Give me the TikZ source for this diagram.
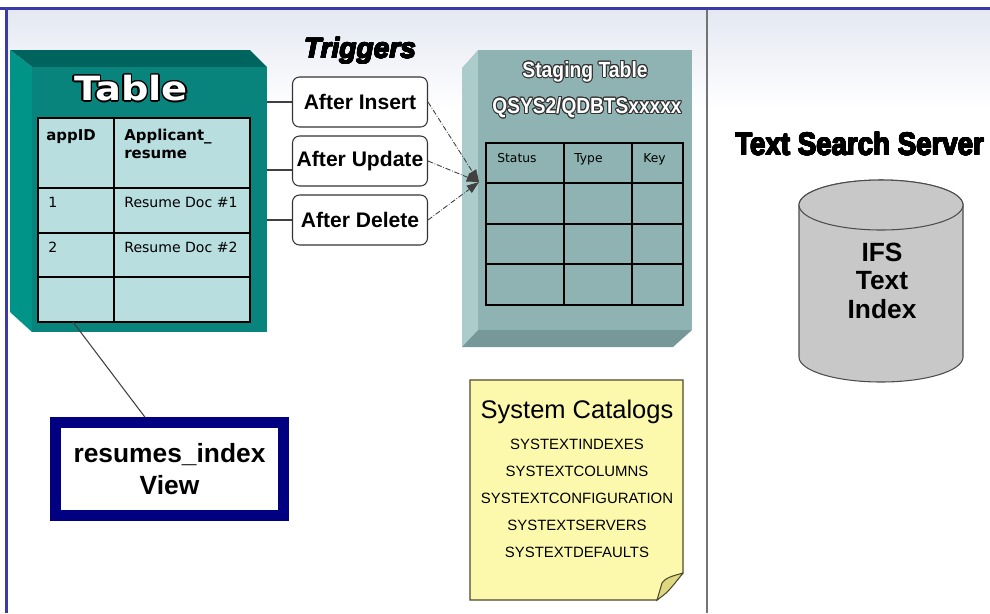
\documentclass[tikz,border=0pt]{standalone}
\usepackage{fontspec}
\setmainfont{Liberation Sans}
\newfontfamily\verdana{DejaVu Sans}
\usepackage{graphicx}
\usepackage{contour}
\usetikzlibrary{arrows.meta}

\definecolor{frameblue}{RGB}{58,58,168}
\definecolor{bgtop}{RGB}{228,232,242}
\definecolor{tealfront}{RGB}{8,132,124}
\definecolor{tealtop}{RGB}{0,100,94}
\definecolor{tealleft}{RGB}{0,148,136}
\definecolor{cellfill}{RGB}{184,222,224}
\definecolor{stagefront}{RGB}{143,178,178}
\definecolor{stageleft}{RGB}{172,204,204}
\definecolor{stagebottom}{RGB}{118,152,152}
\definecolor{notefill}{RGB}{253,249,172}
\definecolor{notefold}{RGB}{222,216,128}
\definecolor{viewnavy}{RGB}{0,0,128}
\definecolor{disk}{RGB}{200,200,200}

\tikzset{
	trigger/.style={draw=black!80, line width=0.6pt, rounded corners=4pt, fill=white,
		minimum width=2.7cm, minimum height=1cm, inner sep=0pt,
		font=\bfseries\fontsize{12}{14}\selectfont},
	fires/.style={densely dashdotted, black!75, line width=0.5pt, -{Triangle[length=7pt,width=5pt]}},
	link/.style={black!75, line width=0.6pt},
	cell/.style={anchor=base west, inner sep=0pt, font=\verdana\fontsize{8}{10}\selectfont},
	cellhead/.style={cell, font=\verdana\bfseries\fontsize{8.5}{10}\selectfont},
	stagehead/.style={cell, font=\verdana\fontsize{7}{8}\selectfont},
	catalog/.style={anchor=base, inner sep=0pt, font=\fontsize{8.5}{10}\selectfont},
}

\begin{document}
\begin{tikzpicture}[x=0.02cm, y=-0.02cm]
	\useasboundingbox (0,0) rectangle (990,613);

	% page background and frame
	\fill[white] (0,0) rectangle (990,613);
	\shade[top color=bgtop, bottom color=white] (8,10) rectangle (990,110);
	\fill[frameblue] (0,7) rectangle (990,10);
	\fill[frameblue] (5,7) rectangle (8,613);
	\draw[black!55, line width=1.2pt] (707,10) -- (707,613);

	% base table
	\fill[tealtop] (10,50) -- (250,50) -- (267,67) -- (32,67) -- cycle;
	\fill[tealleft] (10,50) -- (32,67) -- (32,332) -- (10,312) -- cycle;
	\fill[tealfront] (32,67) rectangle (267,332);
	\coordinate (tblR) at (267,67);

	\node (tbltitle) at (131,89) [text=white, font=\verdana\bfseries\fontsize{19}{20}\selectfont]
		{\contourlength{0.7pt}\scalebox{1.15}[1]{\contour{black}{Table}}};

	\filldraw[fill=cellfill, line width=1.2pt] (38,118) rectangle (250,322);
	\draw[line width=0.7pt] (114,118) -- (114,322);
	\foreach \y in {188,233,277}
		\draw[line width=0.7pt] (38,\y) -- (250,\y);
	\coordinate (tblbot) at (73,322);

	\node (appid) at (46,140) [cellhead] {appID};
	\node (applicant) at (124,140) [cellhead] {Applicant\_};
	\node (resume) at (124,158) [cellhead] {resume};
	\node (id1) at (48,207) [cell] {1};
	\node (doc1) at (124,207) [cell] {Resume Doc \#1};
	\node (id2) at (48,252) [cell] {2};
	\node (doc2) at (124,252) [cell] {Resume Doc \#2};

	% triggers
	\node (trighead) at (360,58) [anchor=base, inner sep=0pt, font=\bfseries\itshape\fontsize{16}{18}\selectfont]
		{\contourlength{0.3pt}\contour{black}{Triggers}};
	\node (ins) at (360,102) [trigger] {After Insert};
	\node (upd) at (360,161) [trigger] {After Update};
	\node (del) at (360,220) [trigger] {After Delete};

	\coordinate (updin) at ([yshift=-0.18cm]upd.west);
	\draw[link] (ins.west) -- (ins.west -| tblR);
	\draw[link] (updin) -- (updin -| tblR);
	\draw[link] (del.west) -- (del.west -| tblR);

	% staging table
	\fill[stageleft] (462,68) -- (478,50) -- (478,330) -- (462,347) -- cycle;
	\fill[stagebottom] (462,347) -- (478,330) -- (692,330) -- (673,347) -- cycle;
	\fill[stagefront] (478,50) rectangle (692,330);
	\coordinate (hit) at (479,182);

	\node (stagetitle) at (585,72) [text=white, font=\bfseries\fontsize{12.5}{14}\selectfont]
		{\contourlength{0.6pt}\scalebox{0.88}[1]{\contour{black!80}{Staging Table}}};
	\node (stagename) at (587,108) [text=white, font=\bfseries\fontsize{12.5}{14}\selectfont]
		{\contourlength{0.6pt}\scalebox{0.87}[1]{\contour{black!80}{QSYS2/QDBTSxxxxx}}};

	\draw[line width=1.5pt] (486,143) rectangle (683,305);
	\foreach \x in {564,632}
		\draw[line width=1pt] (\x,143) -- (\x,305);
	\foreach \y in {183,224,264}
		\draw[line width=1pt] (486,\y) -- (683,\y);
	\node (status) at (497,162) [stagehead] {Status};
	\node (type) at (574,162) [stagehead] {Type};
	\node (key) at (643,162) [stagehead] {Key};

	\draw[fires] (ins.east) -- (hit);
	\draw[fires] (upd.east) -- (hit);
	\draw[fires] (del.east) -- (hit);

	% catalog note
	\filldraw[fill=notefill, draw=black!60!olive, line width=0.7pt]
		(470,380) -- (683,380) -- (683,573) -- (657,600) -- (470,600) -- cycle;
	\filldraw[fill=notefold, draw=black!60!olive, line width=0.6pt]
		(683,573) .. controls (672,576) and (665,578) .. (662,583) -- (657,600) .. controls (668,592) .. (683,573);
	\node (cathead) at (577,418) [anchor=base, inner sep=0pt, font=\fontsize{14.5}{16}\selectfont] {System Catalogs};
	\node (cat1) at (577,449) [catalog] {SYSTEXTINDEXES};
	\node (cat2) at (577,476) [catalog] {SYSTEXTCOLUMNS};
	\node (cat3) at (577,503) [catalog] {SYSTEXTCONFIGURATION};
	\node (cat4) at (577,530) [catalog] {SYSTEXTSERVERS};
	\node (cat5) at (577,557) [catalog] {SYSTEXTDEFAULTS};

	% view over the table
	\node (view) at (169.5,469) [draw=viewnavy, line width=6pt, fill=white, minimum width=4.56cm,
		minimum height=1.86cm, align=center, font=\bfseries\fontsize{15}{18.7}\selectfont]
		{resumes\_index\\View};
	\draw[link] (tblbot) -- ([xshift=-0.49cm]view.north);

	% text search server
	\node (tss) at (735,155) [anchor=base west, inner sep=0pt, font=\bfseries\fontsize{18}{20}\selectfont]
		{\contourlength{0.35pt}\scalebox{0.875}[1]{\contour{black}{Text Search Server}}};

	\filldraw[fill=disk, draw=black!70, line width=0.6pt]
		(799,205) -- (799,357) arc[start angle=180, end angle=0, x radius=82, y radius=25]
		-- (963,205) arc[start angle=0, end angle=-180, x radius=82, y radius=25] -- cycle;
	\filldraw[fill=disk, draw=black!70, line width=0.6pt] (881,205) ellipse [x radius=82, y radius=25];
	\node (ifs) at (882,318) [anchor=base, inner sep=0pt, align=center, font=\bfseries\fontsize{15}{16.2}\selectfont]
		{IFS\\Text\\Index};
\end{tikzpicture}
\end{document}
